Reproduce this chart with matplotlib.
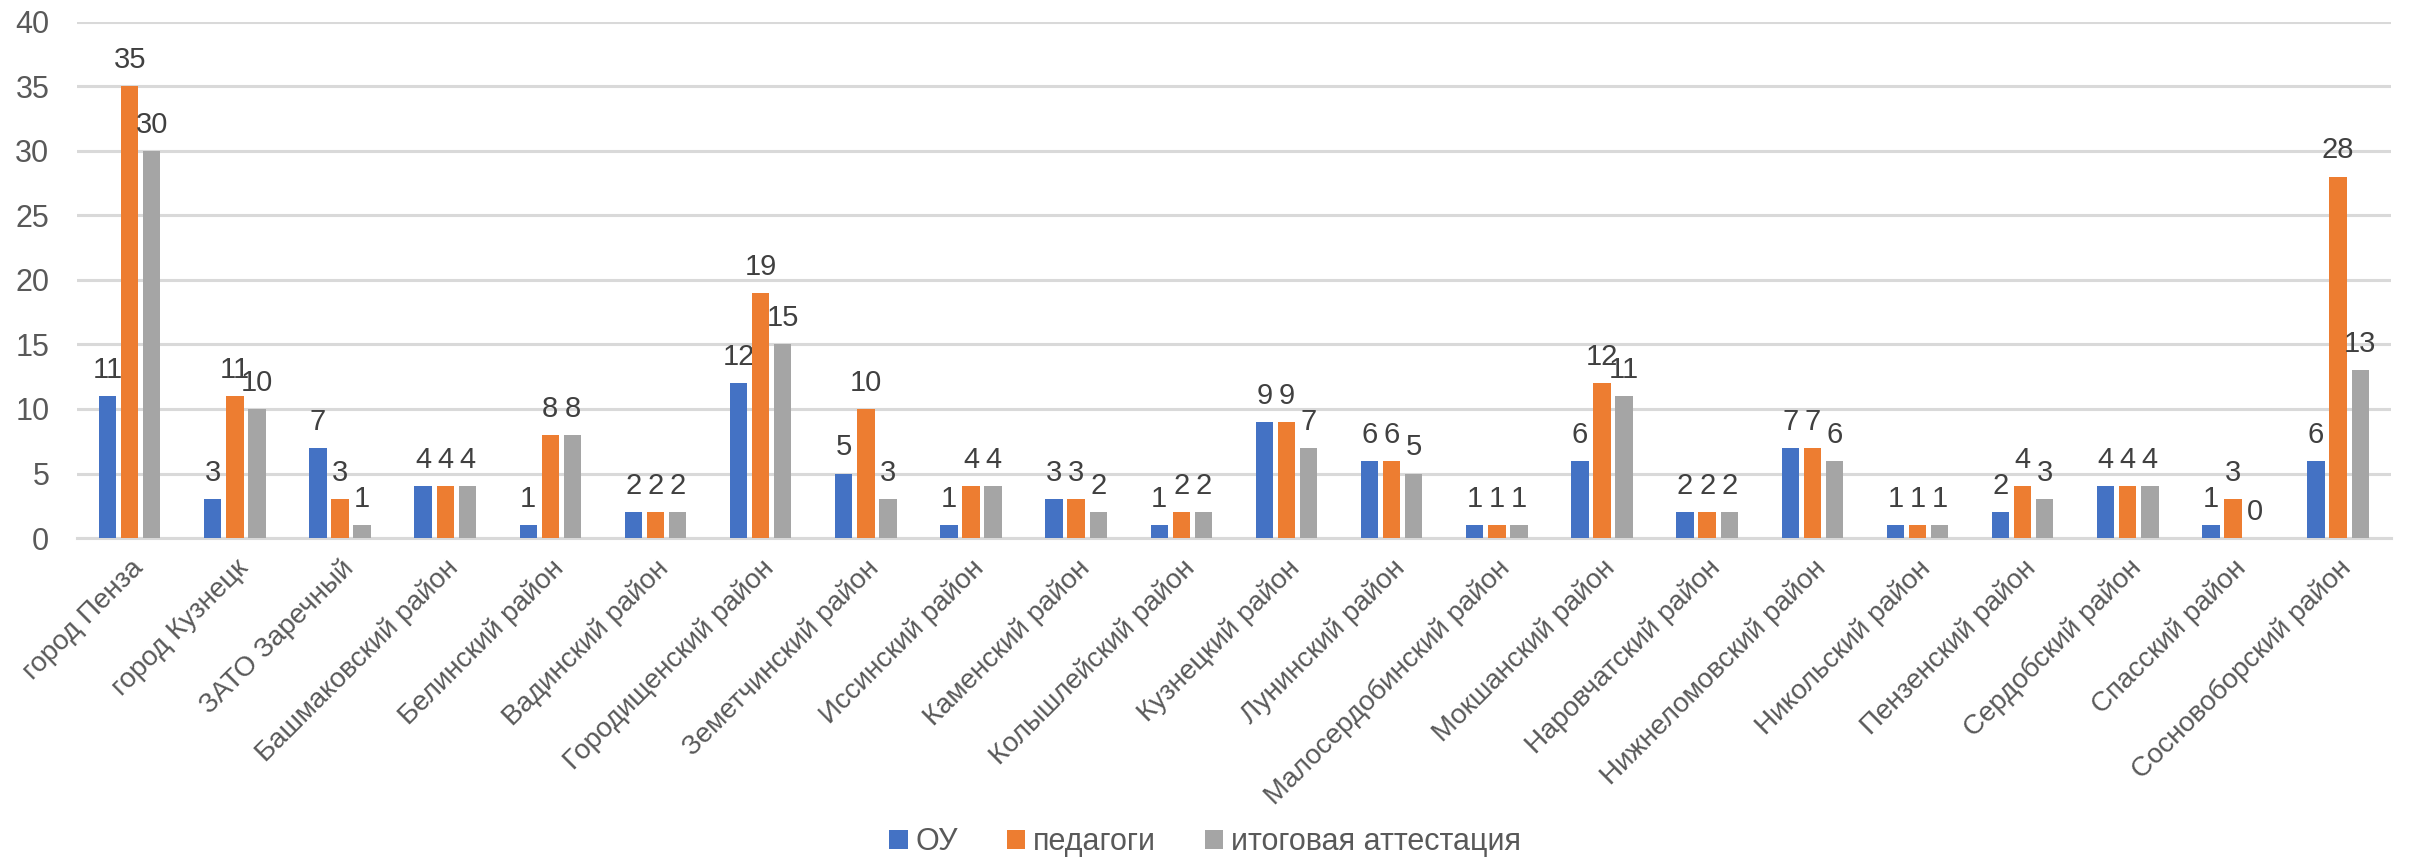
import numpy as np
import matplotlib
matplotlib.use("Agg")
import matplotlib.pyplot as plt

plt.rcParams["font.family"] = ["Liberation Sans", "DejaVu Sans"]

# ==========================================================
# DATA
# ==========================================================

categories = [
    "город Пенза", "город Кузнецк", "ЗАТО Заречный", "Башмаковский район",
    "Белинский район", "Вадинский район", "Городищенский район",
    "Земетчинский район", "Иссинский район", "Каменский район",
    "Колышлейский район", "Кузнецкий район", "Лунинский район",
    "Малосердобинский район", "Мокшанский район", "Наровчатский район",
    "Нижнеломовский район", "Никольский район", "Пензенский район",
    "Сердобский район", "Спасский район", "Сосновоборский район",
]

ou = [11, 3, 7, 4, 1, 2, 12, 5, 1, 3, 1, 9, 6, 1, 6, 2, 7, 1, 2, 4, 1, 6]
pedagogi = [35, 11, 3, 4, 8, 2, 19, 10, 4, 3, 2, 9, 6, 1, 12, 2, 7, 1, 4, 4, 3, 28]
attest = [30, 10, 1, 4, 8, 2, 15, 3, 4, 2, 2, 7, 5, 1, 11, 2, 6, 1, 3, 4, 0, 13]

series_names = ["ОУ", "педагоги", "итоговая аттестация"]
colors = ["#4472C4", "#ED7D31", "#A5A5A5"]

yticks = [0, 5, 10, 15, 20, 25, 30, 35, 40]

# ==========================================================
# PLOT
# ==========================================================

fig = plt.figure(figsize=(24.1, 8.61), dpi=100)
ax = fig.add_axes([0.032, 0.375, 0.96, 0.600])

x = np.arange(len(categories))
width = 0.165
step = 0.21

for i, (vals, name, col) in enumerate(zip([ou, pedagogi, attest], series_names, colors)):
    pos = x + (i - 1) * step
    ax.bar(pos, vals, width=width, color=col, label=name, zorder=3)
    # value labels above each bar
    for px, v in zip(pos, vals):
        ax.annotate(str(v), (px, v), xytext=(0, 13), textcoords="offset points",
                    ha="center", va="baseline", fontsize=21, color="#404040")

ax.set_xlim(-0.5, len(categories) - 0.5)
ax.set_ylim(0, 40)
ax.set_yticks(yticks)
ax.yaxis.grid(True, color="#D9D9D9", linewidth=2.2, zorder=0)
ax.set_axisbelow(True)

for s in ["top", "right", "left"]:
    ax.spines[s].set_visible(False)
ax.spines["bottom"].set_color("#D9D9D9")
ax.spines["bottom"].set_linewidth(2.2)

ax.tick_params(axis="y", length=0, pad=20, labelsize=22, labelcolor="#595959")
ax.tick_params(axis="x", length=0, pad=12, labelsize=20, labelcolor="#595959")

ax.set_xticks(x)
ax.set_xticklabels(categories, rotation=45, ha="right", rotation_mode="anchor")

leg = fig.legend(loc="center", bbox_to_anchor=(0.5, 0.022), ncol=3, frameon=False,
                 fontsize=22, handlelength=0.6, handleheight=0.6, handletextpad=0.25,
                 columnspacing=1.6)
for t in leg.get_texts():
    t.set_color("#595959")

fig.savefig("out.png", dpi=100)
